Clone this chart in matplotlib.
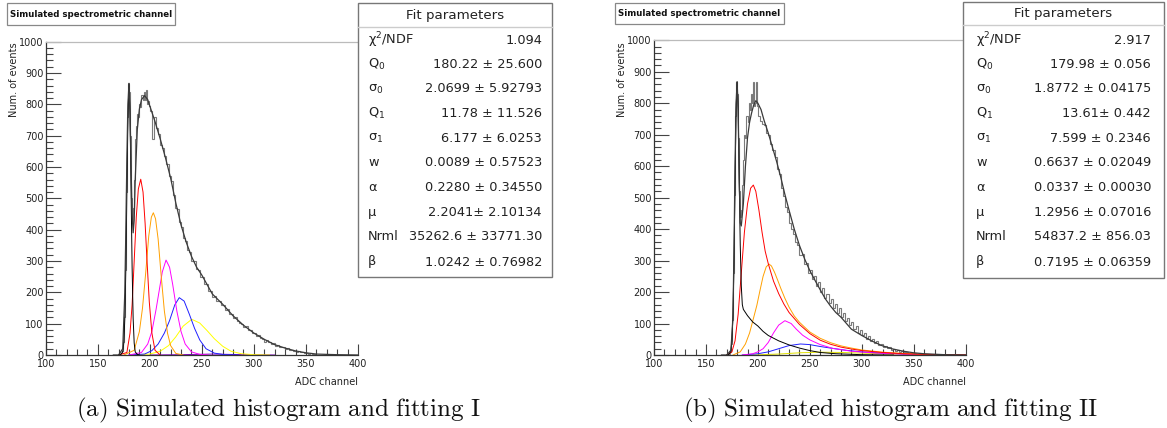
import matplotlib
matplotlib.use("Agg")
import matplotlib.pyplot as plt
from matplotlib.patches import Rectangle
import numpy as np

W, H = 1167, 428

# ---------------- data: panel (a) ----------------
a_hist_edges = list(range(170, 200)) + list(range(200, 362, 2))
a_hist_vals = [0, 2, 5, 12, 40, 120, 270, 520, 760, 865, 840, 700, 500, 420, 470,
               560, 690, 730, 770, 760, 800, 790, 830, 815, 840, 815, 845, 800, 810, 795,
               780, 690, 760, 725, 705, 670, 660, 635, 610, 570, 555, 510, 470, 465, 425,
               410, 375, 365, 335, 330, 300, 300, 275, 272, 250, 248, 228, 226, 205, 203,
               185, 188, 172, 173, 158, 160, 145, 146, 130, 132, 118, 120, 108, 103, 100,
               90, 92, 80, 79, 70, 70, 62, 64, 55, 52, 42, 48, 40, 36, 37,
               30, 32, 27, 24, 24, 20, 21, 16, 15, 14, 11, 12, 8, 9, 6,
               6, 4, 5, 3, 3]

a_fit_x = [165, 170, 174, 176, 177, 178, 179, 180, 181, 182, 183, 184, 185, 186, 188, 190,
           192, 195, 198, 200, 205, 210, 215, 220, 225, 230, 235, 240, 245, 250, 260, 270,
           280, 290, 300, 310, 320, 330, 340, 350, 360, 380, 400]
a_fit_y = [0, 0, 20, 200, 400, 630, 800, 867, 780, 600, 450, 390, 430, 560, 720, 785,
           815, 828, 815, 795, 745, 690, 630, 565, 485, 415, 360, 315, 280, 255, 195, 162,
           125, 95, 70, 50, 33, 22, 13, 7, 3, 1, 0]

a_ped_x = [170, 172, 174, 175, 176, 177, 178, 179, 180, 181, 182, 183, 184, 185, 186, 188, 190]
a_ped_y = [0, 2, 10, 38, 117, 282, 526, 765, 867, 765, 526, 282, 117, 38, 10, 2, 0]

a_red_x = [170, 178, 181, 183, 185, 187, 189, 191.3, 193.5, 195.5, 197.5, 199.5, 202, 205, 210]
a_red_y = [0, 8, 70, 160, 300, 440, 530, 561, 520, 420, 290, 170, 70, 15, 0]

a_orange_x = [175, 185, 190, 193, 196, 199, 201.5, 203.4, 205.5, 208, 211, 214, 217, 220, 225, 232]
a_orange_y = [0, 15, 75, 150, 260, 380, 440, 454, 435, 370, 250, 140, 70, 30, 5, 0]

a_magenta_x = [180, 192, 198, 202, 206, 209, 212, 215.6, 219, 222, 226, 230, 234, 240, 248, 256]
a_magenta_y = [0, 8, 35, 75, 145, 205, 265, 303, 280, 225, 140, 75, 35, 10, 2, 0]

a_blue_x = [180, 195, 202, 208, 214, 219, 224, 228.3, 233, 238, 243, 248, 254, 262, 272, 285]
a_blue_y = [0, 3, 14, 35, 70, 110, 160, 183, 172, 130, 85, 48, 20, 6, 1, 0]

a_yellow_x = [185, 200, 210, 218, 225, 232, 240.3, 248, 255, 262, 270, 278, 288, 300, 315]
a_yellow_y = [0, 3, 12, 30, 58, 92, 114, 102, 78, 52, 28, 12, 4, 1, 0]

a_purple_x = [200, 230, 260, 290, 320]
a_purple_y = [0, 1, 3, 1, 0]

# ---------------- data: panel (b) ----------------
b_hist_edges = list(range(170, 200)) + list(range(200, 362, 2))
b_hist_vals = [0, 1, 4, 10, 35, 110, 260, 510, 760, 868, 830, 690, 520, 440, 460,
               540, 620, 700, 690, 760, 740, 800, 780, 830, 800, 868, 790, 800, 868, 790,
               760, 745, 735, 730, 705, 700, 670, 650, 630, 590, 575, 530, 505, 470, 455,
               420, 400, 385, 360, 350, 318, 320, 290, 292, 262, 270, 240, 250, 220, 232,
               200, 212, 182, 195, 165, 178, 150, 162, 135, 148, 122, 132, 108, 118, 95,
               105, 82, 92, 70, 80, 62, 70, 52, 60, 45, 52, 38, 44, 32, 36,
               26, 30, 21, 24, 17, 19, 14, 15, 11, 12, 9, 9, 7, 7, 5,
               5, 4, 4, 3, 3]

b_fit_x = [165, 170, 174, 176, 177, 178, 179, 180, 181, 182, 183, 184, 186, 188, 190, 192,
           194, 196, 198, 200, 203, 206, 210, 214, 218, 222, 226, 230, 235, 240, 245, 250,
           255, 260, 265, 270, 275, 280, 290, 300, 310, 320, 330, 340, 350, 360, 380, 400]
b_fit_y = [0, 0, 15, 120, 330, 600, 800, 868, 780, 560, 420, 410, 480, 600, 690, 740,
           770, 795, 808, 800, 780, 745, 705, 660, 615, 565, 510, 460, 400, 348, 305, 268,
           237, 207, 178, 155, 135, 120, 82, 62, 44, 29, 19, 12, 7, 4, 1, 0]

b_ped_x = [170, 172, 174, 175, 176, 177, 178, 179, 180, 181, 182, 183, 184, 185, 186, 190,
           195, 200, 205, 210, 220, 230, 240, 250, 260, 275, 300, 330]
b_ped_y = [0, 2, 12, 45, 130, 300, 550, 780, 868, 780, 560, 350, 220, 160, 145, 125,
           105, 92, 75, 62, 45, 32, 22, 14, 8, 4, 1, 0]

b_red_x = [170, 175, 178, 181, 184, 187, 190, 193, 195.6, 198, 201, 204, 207, 210, 215,
           220, 225, 230, 240, 250, 260, 270, 280, 290, 300, 320, 340, 360, 400]
b_red_y = [0, 10, 45, 130, 260, 390, 480, 530, 540, 520, 460, 390, 330, 290, 235,
           195, 162, 135, 97, 68, 47, 34, 25, 19, 14, 8, 4, 2, 0]

b_orange_x = [176, 183, 188, 192, 196, 199, 202, 205, 208, 210.7, 213, 216, 219, 222, 226,
              230, 235, 240, 250, 260, 270, 280, 290, 300, 320, 340, 360, 400]
b_orange_y = [0, 10, 35, 70, 120, 158, 205, 250, 280, 289, 283, 263, 238, 212, 180,
              152, 124, 104, 73, 53, 39, 29, 22, 16, 9, 5, 2, 0]

b_magenta_x = [185, 195, 200, 205, 210, 215, 220, 226, 232, 237, 243, 250, 260, 272, 290,
               310, 330, 360, 400]
b_magenta_y = [0, 4, 10, 20, 40, 70, 95, 109, 100, 82, 63, 48, 33, 21, 12, 7, 4, 1, 0]

b_blue_x = [185, 200, 210, 220, 230, 241, 250, 260, 270, 285, 300, 320, 340, 370, 400]
b_blue_y = [0, 4, 10, 20, 30, 35, 33, 27, 22, 15, 10, 6, 3, 1, 0]

b_yellow_x = [195, 220, 240, 260, 280, 300, 330, 360, 400]
b_yellow_y = [0, 3, 7, 9, 8, 6, 3, 1, 0]

# ---------------- tables ----------------
param_labels = ["\u03c7$^{2}$/NDF", "Q$_{0}$", "\u03c3$_{0}$", "Q$_{1}$", "\u03c3$_{1}$",
                "w", "\u03b1", "\u03bc", "Nrml", "\u03b2"]
a_param_values = ["1.094", "180.22 \u00b1 25.600", "2.0699 \u00b1 5.92793", "11.78 \u00b1 11.526",
                  "6.177 \u00b1 6.0253", "0.0089 \u00b1 0.57523", "0.2280 \u00b1 0.34550",
                  "2.2041\u00b1 2.10134", "35262.6 \u00b1 33771.30", "1.0242 \u00b1 0.76982"]
b_param_values = ["2.917", "179.98 \u00b1 0.056", "1.8772 \u00b1 0.04175", "13.61\u00b1 0.442",
                  "7.599 \u00b1 0.2346", "0.6637 \u00b1 0.02049", "0.0337 \u00b1 0.00030",
                  "1.2956 \u00b1 0.07016", "54837.2 \u00b1 856.03", "0.7195 \u00b1 0.06359"]

panel_title = "Simulated spectrometric channel"
captions = [r"$\mathrm{(a)\ Simulated\ histogram\ and\ fitting\ I}$",
            r"$\mathrm{(b)\ Simulated\ histogram\ and\ fitting\ II}$"]

plt.rcParams['font.family'] = ['DejaVu Sans']
plt.rcParams['mathtext.fontset'] = 'dejavusans'

fig = plt.figure(figsize=(W / 100, H / 100), dpi=100)


def fx(px):
    return px / W


def fy(py):
    return 1 - py / H


def make_axes(x0, x1, ytop, ybot):
    ax = fig.add_axes([fx(x0), fy(ybot), fx(x1) - fx(x0), fy(ytop) - fy(ybot)])
    ax.set_xlim(100, 400)
    ax.set_ylim(0, 1000)
    ax.set_xticks(range(100, 401, 50))
    ax.set_xticks(range(100, 401, 10), minor=True)
    ax.set_yticks(range(0, 1001, 100))
    ax.set_yticks(range(0, 1001, 20), minor=True)
    ax.tick_params(axis='both', which='both', direction='in', colors='#444444',
                   labelcolor='#222222', labelsize=7, pad=1.5, width=0.8)
    ax.tick_params(axis='y', which='major', length=11)
    ax.tick_params(axis='y', which='minor', length=5)
    ax.tick_params(axis='x', which='major', length=8)
    ax.tick_params(axis='x', which='minor', length=4)
    ax.tick_params(axis='x', pad=2.8)
    for s in ['left', 'bottom']:
        ax.spines[s].set_color('#333333')
        ax.spines[s].set_linewidth(0.9)
    ax.spines['top'].set_color('#bbbbbb')
    ax.spines['top'].set_linewidth(0.9)
    ax.spines['right'].set_visible(False)
    return ax


def draw_panel(ax, edges, vals, fit, comps):
    ax.stairs(vals, edges, color='#7a7a7a', lw=0.8, baseline=None)
    for (xs, ys, c) in comps:
        ax.plot(xs, ys, color=c, lw=0.7)
    ax.plot(fit[0], fit[1], color='#3a3a3a', lw=0.9)


ax_a = make_axes(45.7, 358.0, 41.7, 355.0)
draw_panel(ax_a, a_hist_edges, a_hist_vals, (a_fit_x, a_fit_y),
           [(a_purple_x, a_purple_y, '#8000c0'),
            (a_yellow_x, a_yellow_y, '#ffff00'),
            (a_blue_x, a_blue_y, '#2020ff'),
            (a_magenta_x, a_magenta_y, '#ff00ff'),
            (a_orange_x, a_orange_y, '#ffa000'),
            (a_red_x, a_red_y, '#ff0000'),
            (a_ped_x, a_ped_y, '#000000')])

ax_b = make_axes(654.0, 965.7, 40.3, 355.0)
draw_panel(ax_b, b_hist_edges, b_hist_vals, (b_fit_x, b_fit_y),
           [(b_yellow_x, b_yellow_y, '#e0e000'),
            (b_blue_x, b_blue_y, '#2020ff'),
            (b_magenta_x, b_magenta_y, '#ff00ff'),
            (b_orange_x, b_orange_y, '#ffa000'),
            (b_red_x, b_red_y, '#ff0000'),
            (b_ped_x, b_ped_y, '#000000')])

# axis labels
for (lx, rx) in [(14, 358), (622, 966)]:
    fig.text(fx(lx), fy(42), "Num. of events", rotation=90, ha='center', va='top',
             fontsize=7, color='#222222')
    fig.text(fx(rx), fy(382), "ADC channel", ha='right', va='center',
             fontsize=7, color='#222222')

# title boxes
for (x0, x1, y0, y1) in [(7, 175, 3, 25), (615, 784, 3, 24)]:
    fig.add_artist(Rectangle((fx(x0), fy(y1)), fx(x1) - fx(x0), fy(y0) - fy(y1),
                             transform=fig.transFigure, fill=True, facecolor='white',
                             edgecolor='#888888', lw=0.9))
    fig.text(fx((x0 + x1) / 2), fy((y0 + y1) / 2 + 0.5), panel_title, ha='center',
             va='center', fontsize=6.2, fontweight='bold', color='#111111')


# fit parameter tables
def draw_table(x0, x1, y0, y1, yhead, values, lab_x, val_x):
    fig.add_artist(Rectangle((fx(x0), fy(y1)), fx(x1) - fx(x0), fy(y0) - fy(y1),
                             transform=fig.transFigure, facecolor='white',
                             edgecolor='#777777', lw=1.0, zorder=5))
    fig.add_artist(plt.Line2D([fx(x0), fx(x1)], [fy(yhead), fy(yhead)],
                              transform=fig.transFigure, color='#cccccc', lw=1.0, zorder=6))
    fig.text(fx((x0 + x1) / 2), fy((y0 + yhead) / 2), "Fit parameters", ha='center',
             va='center', fontsize=9.6, color='#222222', zorder=7)
    row_y = [40, 64.5, 89, 113.5, 138, 163, 188, 212.5, 237, 262]
    for yy, lab, val in zip(row_y, param_labels, values):
        fig.text(fx(lab_x), fy(yy), lab, ha='left', va='center', fontsize=9.3,
                 color='#222222', zorder=7)
        fig.text(fx(val_x), fy(yy), val, ha='right', va='center', fontsize=9.3,
                 color='#222222', zorder=7)


draw_table(358, 552, 3, 277, 27, a_param_values, 368, 542)
draw_table(963, 1164, 2, 278, 25, b_param_values, 976, 1151)

# captions
plt.rcParams['mathtext.fontset'] = 'cm'
fig.text(fx(278), fy(410), captions[0], ha='center', va='center', fontsize=18,
         color='#111111')
fig.text(fx(890), fy(410), captions[1], ha='center', va='center', fontsize=18,
         color='#111111')

fig.savefig("out.png", dpi=100)
